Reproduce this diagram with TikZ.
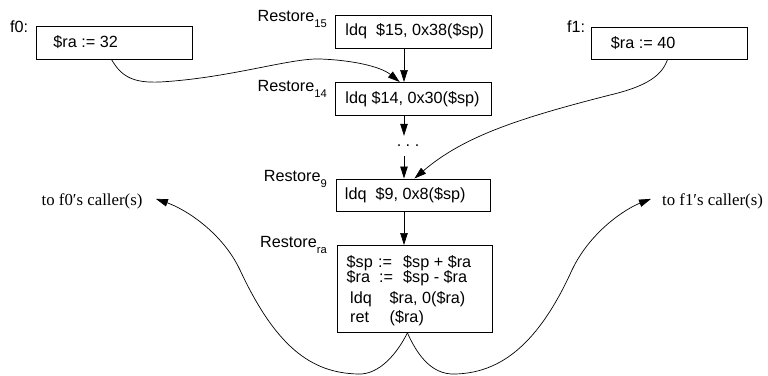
\documentclass[tikz,border=0pt]{standalone}
\usepackage{fontspec}
\usetikzlibrary{arrows.meta}
\newfontfamily\hvfamily{Liberation Sans}
\newfontfamily\serfamily{Liberation Serif}
\newcommand\hv{\hvfamily\fontsize{16.2}{19.5}\selectfont}
\newcommand\sertxt{\serfamily\fontsize{16.8}{19}\selectfont}
\newcommand\lowsub[1]{\raisebox{-6pt}{\fontsize{11.2}{13}\selectfont #1}}
\tikzset{
  box/.style={draw, line width=0.8pt, anchor=north west, inner ysep=0pt, font=\hv},
  lab/.style={inner sep=0pt, font=\hv, anchor=base east},
  txt/.style={inner sep=0pt, font=\hv, anchor=base west},
  capt/.style={inner sep=0pt, font=\sertxt, anchor=base west},
  arr/.style={-{Triangle[length=12pt,width=7.5pt]}, line width=0.7pt},
}
\begin{document}
\begin{tikzpicture}[x=1pt,y=-1pt]
\useasboundingbox (0,0) rectangle (768,375);
\coordinate (col) at (404,0);
% caller boxes
\node[txt] (f0l) at (10,32) {f0:};
\node[box, minimum height=33pt, inner xsep=17pt] (f0) at (36,25.5) {\makebox[122pt][l]{\$ra := 32}};
\node[txt] (f1l) at (567,32) {f1:};
\node[box, minimum height=32pt, inner xsep=19.5pt] (f1) at (591,27) {\makebox[117pt][l]{\$ra := 40}};
% restore column
\node[lab] (L15) at (327,21) {Restore\lowsub{15}};
\node[box, minimum height=32.5pt, inner xsep=10pt] (b15) at (335,15) {\makebox[136pt][l]{ldq\ \ \$15, 0x38(\$sp)}};
\node[lab] (L14) at (327,91) {Restore\lowsub{14}};
\node[box, minimum height=33pt, inner xsep=10pt] (b14) at (335,82) {\makebox[136pt][l]{ldq \$14, 0x30(\$sp)}};
\node[font=\hv, inner sep=0pt, minimum height=20pt] (dots) at (408,146) {.\ .\ .};
\node[lab] (L9) at (327,181) {Restore\lowsub{9}};
\node[box, minimum height=32.5pt, inner xsep=8.5pt] (b9) at (336,178.5) {\makebox[137pt][l]{ldq\ \ \$9, 0x8(\$sp)}};
\node[lab] (Lra) at (327,247) {Restore\lowsub{ra}};
\node[box, minimum height=87pt, minimum width=155pt] (ra) at (336.5,245) {};
\node[txt] (r1) at (346.5,267) {\makebox[31.5pt][l]{\$sp}\makebox[25pt][l]{:=}\$sp + \$ra};
\node[txt] (r2) at (346.5,282) {\makebox[32.5pt][l]{\$ra}\makebox[24pt][l]{:=}\$sp - \$ra};
\node[txt] (r3) at (350,303) {\makebox[39.5pt][l]{ldq}\$ra, 0(\$ra)};
\node[txt] (r4) at (350,322) {\makebox[39.5pt][l]{ret}(\$ra)};
% captions
\node[capt] (capL) at (41.5,205) {to f0′s caller(s)};
\node[capt] (capR) at (662,205) {to f1′s caller(s)};
% vertical arrows
\draw[arr] (b15.south -| col) -- (b14.north -| col);
\draw[arr] (b14.south -| col) -- (dots.north -| col);
\draw[arr] (dots.south -| col) -- (b9.north -| col);
\draw[arr] (b9.south -| col) -- (ra.north -| col);
% f0 curve
\draw[arr] ([xshift=-3pt]f0.south) .. controls (122,78) and (135,83) .. (160,82)
  .. controls (230,78) and (290,58) .. (320,59)
  .. controls (350,60) and (380,66) .. ([xshift=-13.7pt]b14.north);
% f1 curve
\draw[arr] ([xshift=-2pt]f1.south) .. controls (662,75) and (648,86) .. (610,95)
  .. controls (520,118) and (464,136) .. ([xshift=1pt]b9.north);
% return curves
\draw[arr] ([xshift=-7pt]ra.south) .. controls (398,352) and (380,375) .. (358,374)
  .. controls (310,373) and (275,345) .. (240,270)
  .. controls (222,232) and (185,209) .. ([xshift=13.3pt,yshift=2pt]capL.east);
\draw[arr] ([xshift=-7pt]ra.south) .. controls (416,352) and (430,375) .. (455,374)
  .. controls (500,373) and (538,345) .. (572,270)
  .. controls (590,232) and (625,209) .. ([xshift=-11pt,yshift=2pt]capR.west);
\end{tikzpicture}
\end{document}
